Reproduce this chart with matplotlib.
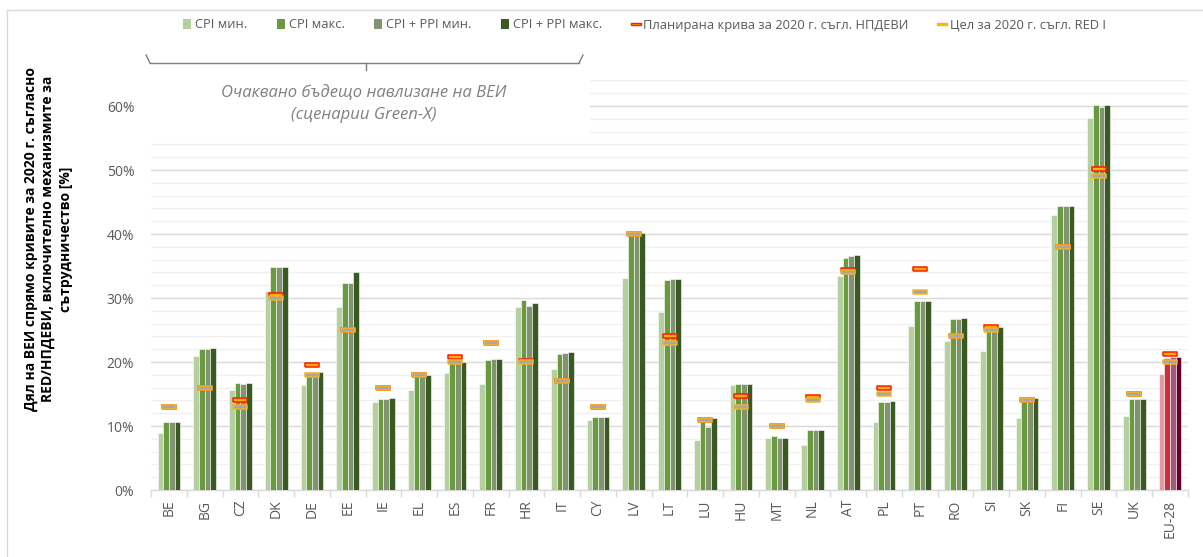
import numpy as np
import matplotlib.pyplot as plt
from matplotlib.lines import Line2D
from matplotlib.patches import Patch, Rectangle

plt.rcParams['font.family'] = ['Open Sans', 'DejaVu Sans']

# data (shares in %)
countries = ['BE', 'BG', 'CZ', 'DK', 'DE', 'EE', 'IE', 'EL', 'ES', 'FR', 'HR', 'IT', 'CY', 'LV',
             'LT', 'LU', 'HU', 'MT', 'NL', 'AT', 'PL', 'PT', 'RO', 'SI', 'SK', 'FI', 'SE', 'UK', 'EU-28']
cpi_min = [8.9, 20.9, 15.6, 31.1, 16.4, 28.6, 13.8, 15.6, 18.3, 16.6, 28.6, 18.9, 10.9, 33.1,
           27.8, 7.8, 16.4, 8.1, 7.1, 33.4, 10.6, 25.7, 23.3, 21.7, 11.2, 42.9, 58.1, 11.6, 18.1]
cpi_max = [10.6, 22.1, 16.7, 34.8, 18.0, 32.4, 14.2, 18.0, 20.1, 20.3, 29.7, 21.2, 11.4, 40.0,
           32.8, 10.9, 16.5, 8.5, 9.3, 36.3, 13.8, 29.5, 26.7, 25.1, 14.1, 44.4, 60.2, 14.2, 20.6]
ppi_min = [10.6, 22.1, 16.6, 34.9, 18.1, 32.4, 14.2, 18.0, 20.1, 20.4, 28.7, 21.4, 11.4, 40.1,
           32.9, 9.9, 16.5, 8.1, 9.3, 36.6, 13.8, 29.5, 26.7, 25.4, 14.2, 44.4, 59.8, 14.2, 20.8]
ppi_max = [10.6, 22.2, 16.7, 34.9, 18.4, 34.1, 14.3, 17.9, 20.0, 20.4, 29.2, 21.5, 11.4, 40.2,
           32.9, 11.2, 16.6, 8.1, 9.4, 36.7, 13.9, 29.6, 26.8, 25.5, 14.3, 44.4, 60.2, 14.2, 20.8]
nreap = [13.0, 16.0, 14.1, 30.5, 19.6, 25.0, 16.0, 18.0, 20.8, 23.0, 20.2, 17.0, 13.0, 40.0,
         24.1, 11.0, 14.7, 10.0, 14.5, 34.3, 15.9, 34.5, 24.0, 25.4, 14.0, 38.0, 50.2, 15.0, 21.3]
red_target = [13.0, 16.0, 13.0, 30.0, 18.0, 25.0, 16.0, 18.0, 20.0, 23.0, 20.0, 17.0, 13.0, 40.0,
              23.0, 11.0, 13.0, 10.0, 14.0, 34.0, 15.0, 31.0, 24.0, 25.0, 14.0, 38.0, 49.0, 15.0, 20.0]

green_cols = ['#b5cfa0', '#6a9a3f', '#82946f', '#3a5a24']
eu_cols = ['#e39aa3', '#c9303e', '#a05a7a', '#66002e']
series = [cpi_min, cpi_max, ppi_min, ppi_max]
labels = ['CPI мин.', 'CPI макс.', 'CPI + PPI мин.', 'CPI + PPI макс.']

fig = plt.figure(figsize=(12.03, 5.57), dpi=100)
ax = fig.add_axes([151 / 1203, 1 - 490 / 557, (1188 - 151) / 1203, (490 - 80.4) / 557])

x = np.arange(len(countries))
w = 0.159
n = len(countries)
for k, vals in enumerate(series):
    cols = [green_cols[k]] * (n - 1) + [eu_cols[k]]
    ax.bar(x + (k - 1.5) * w, np.array(vals) / 100, width=w, color=cols,
           edgecolor='white', linewidth=0.4, zorder=3)

# horizontal dash markers
rect = [(-1, -0.27), (1, -0.27), (1, 0.27), (-1, 0.27), (-1, -0.27)]
ax.plot(x, np.array(nreap) / 100, linestyle='none', marker=rect, ms=10,
        mfc='#ffb000', mec='#ff1a00', mew=1.1, zorder=4)
ax.plot(x, np.array(red_target) / 100, linestyle='none', marker=rect, ms=10,
        mfc='#a6a6a6', mec='#f5b324', mew=1.1, zorder=5)

ax.set_xlim(-0.5, n - 0.5)
ax.set_ylim(0, 0.64)
ax.set_yticks(np.arange(0, 0.61, 0.1))
ax.set_yticklabels(['%d%%' % v for v in range(0, 61, 10)])
ax.set_yticks(np.arange(0, 0.641, 0.02), minor=True)
ax.grid(axis='y', which='minor', color='#f0f0f0', linewidth=1.0, zorder=0)
ax.grid(axis='y', which='major', color='#d9d9d9', linewidth=1.0, zorder=1)
ax.tick_params(axis='y', which='both', length=0, pad=12, labelsize=10, labelcolor='#595959')

ax.set_xticks(x)
ax.set_xticklabels(countries, rotation=90)
ax.set_xticks(np.arange(-0.5, n, 1), minor=True)
ax.tick_params(axis='x', which='major', length=0, pad=7, labelsize=10, labelcolor='#595959')
ax.tick_params(axis='x', which='minor', length=5, color='#d9d9d9', width=1)

for s in ['top', 'right', 'left']:
    ax.spines[s].set_visible(False)
ax.spines['bottom'].set_color('#d9d9d9')
ax.spines['bottom'].set_linewidth(1.0)

fig.text(0.04, 1 - 239 / 557,
         'Дял на ВЕИ спрямо кривите за 2020 г. съгласно\nRED/НПДЕВИ, включително механизмите за\nсътрудничество [%]',
         rotation=90, ha='center', va='center', fontsize=10, fontweight='bold',
         linespacing=1.3, multialignment='center')

# scenario annotation box with brace
fig.patches.append(Rectangle((145 / 1203, 1 - 140 / 557), (590 - 145) / 1203, 75 / 557,
                             transform=fig.transFigure, facecolor='white', edgecolor='none', zorder=2))
bc = '#7f7f7f'
fy = lambda py: 1 - py / 557
fx = lambda px: px / 1203
for xs, ys in [([150, 579], [63, 63]), ([146, 150], [55, 63]), ([579, 583], [63, 55]),
               ([366, 366], [63, 70])]:
    fig.add_artist(Line2D([fx(v) for v in xs], [fy(v) for v in ys], color=bc, lw=1, zorder=10))
fig.text(fx(364), fy(93), 'Очаквано бъдещо навлизане на ВЕИ', ha='center', va='center',
         fontsize=12, style='italic', color='#808080', zorder=11)
fig.text(fx(364), fy(115), '(сценарии Green-X)', ha='center', va='center',
         fontsize=12, style='italic', color='#808080', zorder=11)

# chart border
fig.add_artist(Line2D([fx(7), fx(7)], [fy(10), 0], color='#d9d9d9', lw=1))
fig.add_artist(Line2D([fx(7), 1], [fy(10), fy(10)], color='#d9d9d9', lw=1))

# legend
handles = [Patch(facecolor=c) for c in green_cols]
handles.append(Line2D([], [], linestyle='none', marker=rect, ms=7, mfc='#ffb000', mec='#ff1a00', mew=1))
handles.append(Line2D([], [], linestyle='none', marker=rect, ms=7, mfc='#ffc000', mec='#f5b324', mew=1))
leg_labels = labels + ['Планирана крива за 2020 г. съгл. НПДЕВИ', 'Цел за 2020 г. съгл. RED I']
fig.legend(handles, leg_labels, loc='center', bbox_to_anchor=(0.536, 1 - 25 / 557), ncol=6,
           frameon=False, fontsize=9.3, labelcolor='#595959', handlelength=0.6, handleheight=0.9,
           handletextpad=0.3, columnspacing=2.3)

fig.savefig('out.png', dpi=100)
